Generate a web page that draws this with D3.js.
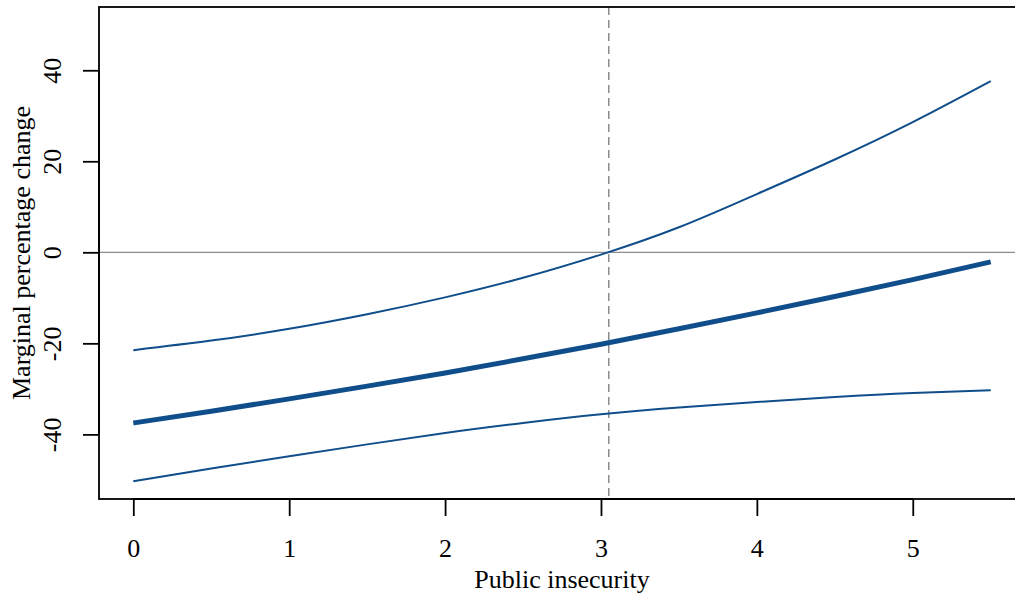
<!DOCTYPE html>
<html>
<head>
<meta charset="utf-8">
<script src="https://cdn.jsdelivr.net/npm/d3@7"></script>
<style>
  body { margin: 0; background: #fff; }
  text { font-family: "Liberation Serif", "Times New Roman", serif; fill: #000; }
</style>
</head>
<body>
<svg id="chart" width="1015" height="596"></svg>
<script>
// values
const insecurity = [0, 0.5, 1, 1.5, 2, 2.5, 3, 3.5, 4, 4.5, 5, 5.5]
const estimate   = [-37.5, -34.9, -32.2, -29.4, -26.5, -23.4, -20.2, -16.8, -13.3, -9.7, -6.0, -2.1]
const upperCI    = [-21.5, -19.4, -16.8, -13.6, -9.9, -5.6, -0.5, 5.5, 12.8, 20.4, 28.6, 37.6]
const lowerCI    = [-50.3, -47.5, -44.8, -42.2, -39.7, -37.5, -35.6, -34.1, -32.9, -31.8, -30.9, -30.3]
const xTicks = [0, 1, 2, 3, 4, 5]
const yTicks = [-40, -20, 0, 20, 40]
const refX = 3.05

const blue = '#104E8B'
const svg = d3.select('#chart')

const x = d3.scaleLinear().domain([-0.22, 5.72]).range([99, 1025])
const y = d3.scaleLinear().domain([-54.2, 53.9]).range([499, 7])

// reference lines
svg.append('line')
  .attr('x1', x(-0.22)).attr('x2', x(5.72))
  .attr('y1', y(0)).attr('y2', y(0))
  .attr('stroke', '#8c8c8c').attr('stroke-width', 1.3)

svg.append('line')
  .attr('x1', x(refX)).attr('x2', x(refX))
  .attr('y1', y(53.9)).attr('y2', y(-54.2))
  .attr('stroke', '#8c8c8c').attr('stroke-width', 1.5)
  .attr('stroke-dasharray', '8,5')

const line = vals => d3.line()
  .x((d, i) => x(insecurity[i]))
  .y(d => y(d))
  .curve(d3.curveNatural)(vals)

svg.append('path').attr('d', line(upperCI))
  .attr('fill', 'none').attr('stroke', blue).attr('stroke-width', 2)
svg.append('path').attr('d', line(lowerCI))
  .attr('fill', 'none').attr('stroke', blue).attr('stroke-width', 2)
svg.append('path').attr('d', line(estimate))
  .attr('fill', 'none').attr('stroke', blue).attr('stroke-width', 5)

// box
svg.append('rect')
  .attr('x', x(-0.22)).attr('y', y(53.9))
  .attr('width', x(5.72) - x(-0.22)).attr('height', y(-54.2) - y(53.9))
  .attr('fill', 'none').attr('stroke', '#000').attr('stroke-width', 1.8)

// axes
const xAxis = d3.axisBottom(x).tickValues(xTicks).tickSize(17)
  .tickFormat(d => String(d))
const xg = svg.append('g').attr('transform', `translate(0, ${y(-54.2)})`).call(xAxis)
xg.select('.domain').attr('d', `M${x(0)},0H${x(5)}`).attr('stroke-width', 1.8)
xg.selectAll('.tick line').attr('stroke-width', 1.8)
xg.selectAll('.tick text').style('font-size', '26px')
  .attr('font-family', null).attr('y', 58).attr('dy', null)

const yAxis = d3.axisLeft(y).tickValues(yTicks).tickSize(16)
  .tickFormat(d => String(d))
const yg = svg.append('g').attr('transform', `translate(${x(-0.22)}, 0)`).call(yAxis)
yg.select('.domain').attr('d', `M0,${y(-40)}V${y(40)}`).attr('stroke-width', 1.8)
yg.selectAll('.tick line').attr('stroke-width', 1.8)
yg.selectAll('.tick text')
  .style('font-size', '26px')
  .attr('font-family', null)
  .attr('x', null).attr('dy', null)
  .attr('text-anchor', 'middle')
  .attr('transform', 'translate(-38, 0) rotate(-90)')

// titles
svg.append('text')
  .attr('x', (x(-0.22) + x(5.72)) / 2).attr('y', 588)
  .attr('text-anchor', 'middle').style('font-size', '26px')
  .text('Public insecurity')

svg.append('text')
  .attr('transform', `translate(30, ${(y(53.9) + y(-54.2)) / 2}) rotate(-90)`)
  .attr('text-anchor', 'middle').style('font-size', '26px')
  .text('Marginal percentage change')
</script>
</body>
</html>
